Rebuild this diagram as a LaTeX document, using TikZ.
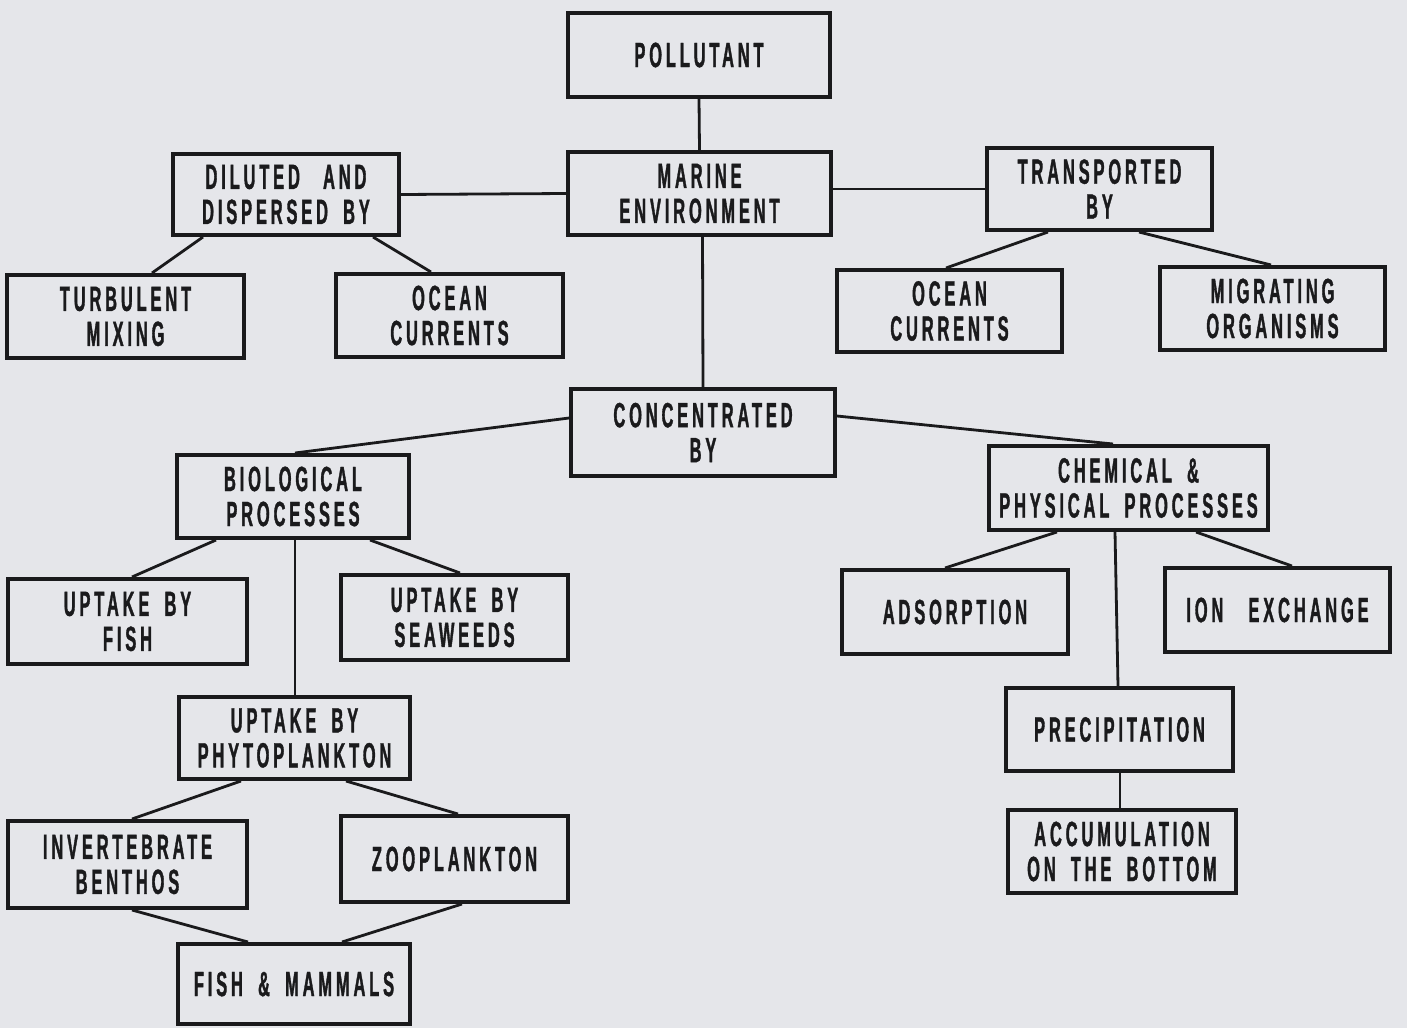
\documentclass[tikz,border=0pt]{standalone}
\usepackage{fontspec}
\newfontfamily\boxfont{Liberation Sans}[FakeStretch=0.47,LetterSpace=11,FakeBold=1,WordSpace=1.8]
\definecolor{paper}{RGB}{229,230,234}
\definecolor{ink}{RGB}{26,26,28}
\begin{document}
\begin{tikzpicture}[x=1pt,y=-1pt,
  box/.style={draw=ink, line width=4pt, inner sep=0pt, align=center,
    text=ink, font=\boxfont\bfseries\fontsize{35}{35}\selectfont},
  link/.style={draw=ink, line width=2.8pt}]
\fill[paper] (0,0) rectangle (1407,1028);
\useasboundingbox (0,0) rectangle (1407,1028);

% top of the tree
\node[box, minimum width=262pt, minimum height=84pt] (pol) at (699,55) {POLLUTANT};
\node[box, minimum width=263pt, minimum height=83pt] (mar) at (699.5,193.5) {MARINE\\ENVIRONMENT};
\node[box, minimum width=226pt, minimum height=81pt] (dil) at (286,194.5) {DILUTED\hspace{8pt} AND\\DISPERSED BY};
\node[box, minimum width=225pt, minimum height=82pt] (tra) at (1099.5,189) {TRANSPORTED\\BY};

% dilution and transport
\node[box, minimum width=237pt, minimum height=83pt] (tur) at (125.5,316.5) {TURBULENT\\MIXING};
\node[box, minimum width=227pt, minimum height=83pt] (ocl) at (449.5,315.5) {OCEAN\\CURRENTS};
\node[box, minimum width=225pt, minimum height=82pt] (ocr) at (949.5,311) {OCEAN\\CURRENTS};
\node[box, minimum width=225pt, minimum height=83pt] (mig) at (1272.5,308.5) {MIGRATING\\ORGANISMS};

% concentration
\node[box, minimum width=264pt, minimum height=87pt] (con) at (703,432.5) {CONCENTRATED\\BY};
\node[box, minimum width=232pt, minimum height=83pt] (bio) at (293,496.5) {BIOLOGICAL\\PROCESSES};
\node[box, minimum width=279pt, minimum height=84pt] (che) at (1128.5,488) {CHEMICAL \&\\PHYSICAL PROCESSES};

% biological branch
\node[box, minimum width=239pt, minimum height=85pt] (ufi) at (127.5,621.5) {UPTAKE BY\\FISH};
\node[box, minimum width=227pt, minimum height=85pt] (usw) at (454.5,617.5) {UPTAKE BY\\SEAWEEDS};
\node[box, minimum width=231pt, minimum height=82pt] (phy) at (294.5,738) {UPTAKE BY\\PHYTOPLANKTON};
\node[box, minimum width=239pt, minimum height=87pt] (inv) at (127.5,864.5) {INVERTEBRATE\\BENTHOS};
\node[box, minimum width=227pt, minimum height=86pt] (zoo) at (454.5,859) {ZOOPLANKTON};
\node[box, minimum width=232pt, minimum height=80pt] (fim) at (294,984) {FISH \& MAMMALS};

% chemical and physical branch
\node[box, minimum width=226pt, minimum height=84pt] (ads) at (955,612) {ADSORPTION};
\node[box, minimum width=225pt, minimum height=84pt] (ion) at (1277.5,610) {ION\hspace{10pt} EXCHANGE};
\node[box, minimum width=227pt, minimum height=83pt] (pre) at (1119.5,729.5) {PRECIPITATION};
\node[box, minimum width=228pt, minimum height=83pt] (acc) at (1122,851.5) {ACCUMULATION\\ON THE BOTTOM};

% connectors
\draw[link] (pol.south) -- (mar.north);
\draw[link] (mar.west) -- (dil.east);
\draw[link] (mar.east |- tra.west) -- (tra.west);
\draw[link] ([xshift=-83pt]dil.south) -- ([xshift=26.5pt]tur.north);
\draw[link] ([xshift=87pt]dil.south) -- ([xshift=-18.5pt]ocl.north);
\draw[link] ([xshift=-51.5pt]tra.south) -- ([xshift=-3.5pt]ocr.north);
\draw[link] ([xshift=39.5pt]tra.south) -- ([xshift=-1.5pt]mig.north);
\draw[link] ([xshift=3pt]mar.south) -- (con.north);
\draw[link] ([yshift=14.5pt]con.west) -- ([xshift=2pt]bio.north);
\draw[link] ([yshift=16.5pt]con.east) -- ([xshift=-15.5pt]che.north);
\draw[link] ([xshift=-77pt]bio.south) -- ([xshift=4.5pt]ufi.north);
\draw[link] ([xshift=77pt]bio.south) -- ([xshift=5.5pt]usw.north);
\draw[link] ([xshift=2pt]bio.south) -- ([xshift=0.5pt]phy.north);
\draw[link] ([xshift=-53.5pt]phy.south) -- ([xshift=4.5pt]inv.north);
\draw[link] ([xshift=51.5pt]phy.south) -- ([xshift=3.5pt]zoo.north);
\draw[link] ([xshift=4.5pt]inv.south) -- ([xshift=-46pt]fim.north);
\draw[link] ([xshift=7.5pt]zoo.south) -- ([xshift=48pt]fim.north);
\draw[link] ([xshift=-71.5pt]che.south) -- ([xshift=-10pt]ads.north);
\draw[link] ([xshift=67.5pt]che.south) -- ([xshift=14.5pt]ion.north);
\draw[link] ([xshift=-13.5pt]che.south) -- ([xshift=-1.5pt]pre.north);
\draw[link] ([xshift=0.5pt]pre.south) -- ([xshift=-2pt]acc.north);
\end{tikzpicture}
\end{document}
